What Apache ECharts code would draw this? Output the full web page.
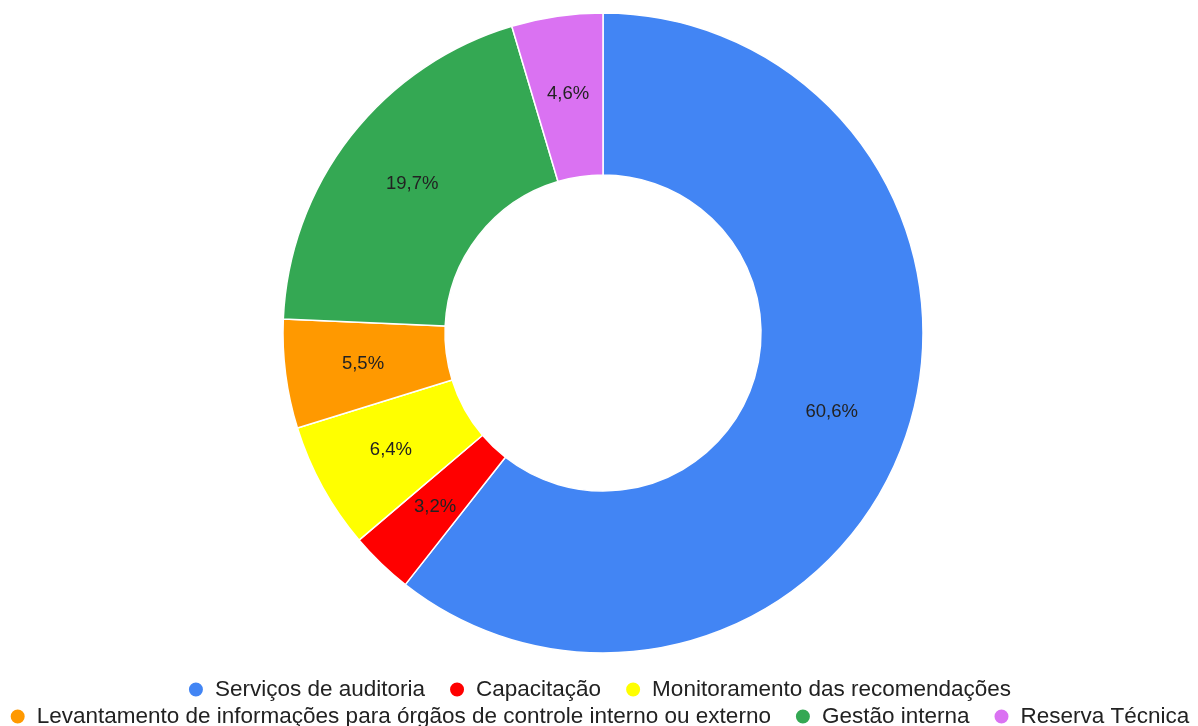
<!DOCTYPE html>
<html>
<head>
<meta charset="utf-8">
<script src="https://cdn.jsdelivr.net/npm/echarts@6/dist/echarts.min.js"></script>
<style>
  html, body { margin: 0; padding: 0; background: #fff; }
  #chart { width: 1198px; height: 726px; }
</style>
</head>
<body>
<div id="chart"></div>
<script>
// categorias e valores (%)
const categories = [
  'Serviços de auditoria',
  'Capacitação',
  'Monitoramento das recomendações',
  'Levantamento de informações para órgãos de controle interno ou externo',
  'Gestão interna',
  'Reserva Técnica'
]
const values = [60.6, 3.2, 6.4, 5.5, 19.7, 4.6]
const colors = ['#4285F4', '#FF0000', '#FFFF00', '#FF9900', '#34A853', '#DA72F2']

const chart = echarts.init(document.getElementById('chart'))

const legendText = {
  fontFamily: 'Liberation Sans, Arial, sans-serif',
  fontSize: 22.5,
  color: '#222',
  padding: [0, 0, 0, 6]
}

chart.setOption({
  animation: false,
  color: colors,
  legend: [{
    data: categories.slice(0, 3),
    top: 678,
    left: 'center',
    padding: 0,
    icon: 'circle',
    itemWidth: 16,
    itemHeight: 16,
    itemGap: 23,
    textStyle: legendText
  }, {
    data: categories.slice(3),
    top: 705,
    left: 'center',
    padding: 0,
    icon: 'circle',
    itemWidth: 16,
    itemHeight: 16,
    itemGap: 23,
    textStyle: legendText
  }],
  series: [{
    type: 'pie',
    center: [603, 333],
    radius: [158, 320],
    startAngle: 90,
    clockwise: true,
    itemStyle: {
      borderColor: '#fff',
      borderWidth: 1.5
    },
    label: {
      show: true,
      position: 'inside',
      fontFamily: 'Liberation Sans, Arial, sans-serif',
      fontSize: 18.5,
      color: '#222',
      formatter: function (p) {
        return p.value.toFixed(1).replace('.', ',') + '%'
      }
    },
    labelLine: { show: false },
    emphasis: { disabled: true },
    data: categories.map((name, i) => ({ name: name, value: values[i] }))
  }]
})
</script>
</body>
</html>
